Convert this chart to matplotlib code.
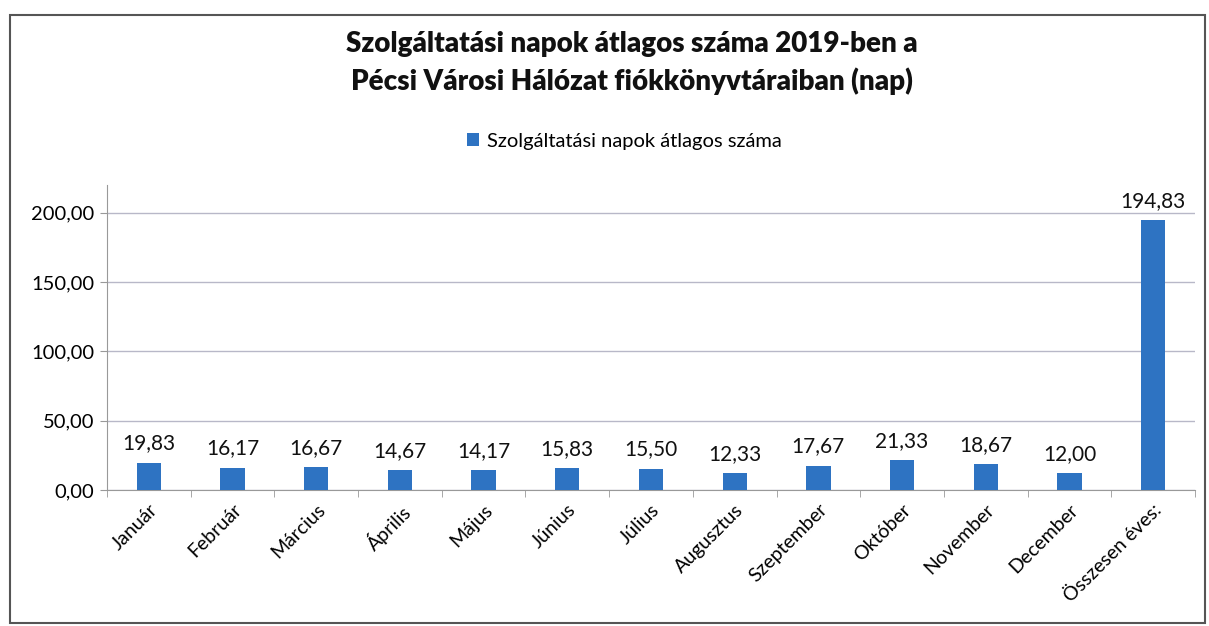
import matplotlib
matplotlib.use("Agg")
import matplotlib.pyplot as plt
from matplotlib.patches import Rectangle

categories = ["Január", "Február", "Március", "Április", "Május", "Június", "Július",
              "Augusztus", "Szeptember", "Október", "November", "December", "Összesen éves:"]
values = [19.83, 16.17, 16.67, 14.67, 14.17, 15.83, 15.50, 12.33, 17.67, 21.33, 18.67, 12.00, 194.83]
yticks = [0, 50, 100, 150, 200]
series_name = "Szolgáltatási napok átlagos száma"
title = "Szolgáltatási napok átlagos száma 2019-ben a\nPécsi Városi Hálózat fiókkönyvtáraiban (nap)"

plt.rcParams['font.family'] = ['Lato', 'DejaVu Sans']

fig = plt.figure(figsize=(12.09, 6.26), dpi=100)
ax = fig.add_axes([107/1209, 1 - 490/626, (1195-107)/1209, (490-185)/626])

bar_color = "#2E73C2"
x = range(len(categories))
bars = ax.bar(x, values, width=0.29, color=bar_color, label=series_name, zorder=3)

def fmt(v):
    return f"{v:.2f}".replace(".", ",")

for xi, v in zip(x, values):
    ax.text(xi, v + 6.5, fmt(v), ha="center", va="bottom", fontsize=15, color="#111111")

ax.set_xlim(-0.5, len(categories) - 0.5)
ax.set_ylim(0, 220)
ax.set_yticks(yticks)
ax.set_yticklabels([fmt(t) for t in yticks], fontsize=14.5)
ax.yaxis.grid(True, color="#B8B8C8", linewidth=1, zorder=0)
ax.set_axisbelow(True)

ax.set_xticks([i - 0.5 for i in range(len(categories) + 1)], minor=True)
ax.set_xticks(list(x))
ax.set_xticklabels(categories, rotation=45, ha="right", rotation_mode="anchor", fontsize=14)
ax.tick_params(axis="x", which="major", length=0, pad=8)
ax.tick_params(axis="x", which="minor", length=5, color="#999999")
ax.tick_params(axis="y", length=5, color="#999999", pad=4)

for s in ["top", "right"]:
    ax.spines[s].set_visible(False)
ax.spines["left"].set_color("#999999")
ax.spines["bottom"].set_color("#999999")

fig.text(632/1209, 1 - 63/626, title, ha="center", va="center", fontsize=20,
         fontweight="heavy", linespacing=1.45, color="#111111")

leg = fig.legend(handles=[bars], labels=[series_name], loc="center",
                 bbox_to_anchor=(624/1209, 1 - 141/626), frameon=False, fontsize=14.5,
                 handlelength=0.6, handleheight=0.6, handletextpad=0.4)

# scan frame
fig.add_artist(Rectangle((10/1209, 3/626), 1195/1209, (626-18)/626, transform=fig.transFigure,
                         fill=False, edgecolor="#555555", linewidth=1.5))

fig.savefig("out.png", dpi=100)
